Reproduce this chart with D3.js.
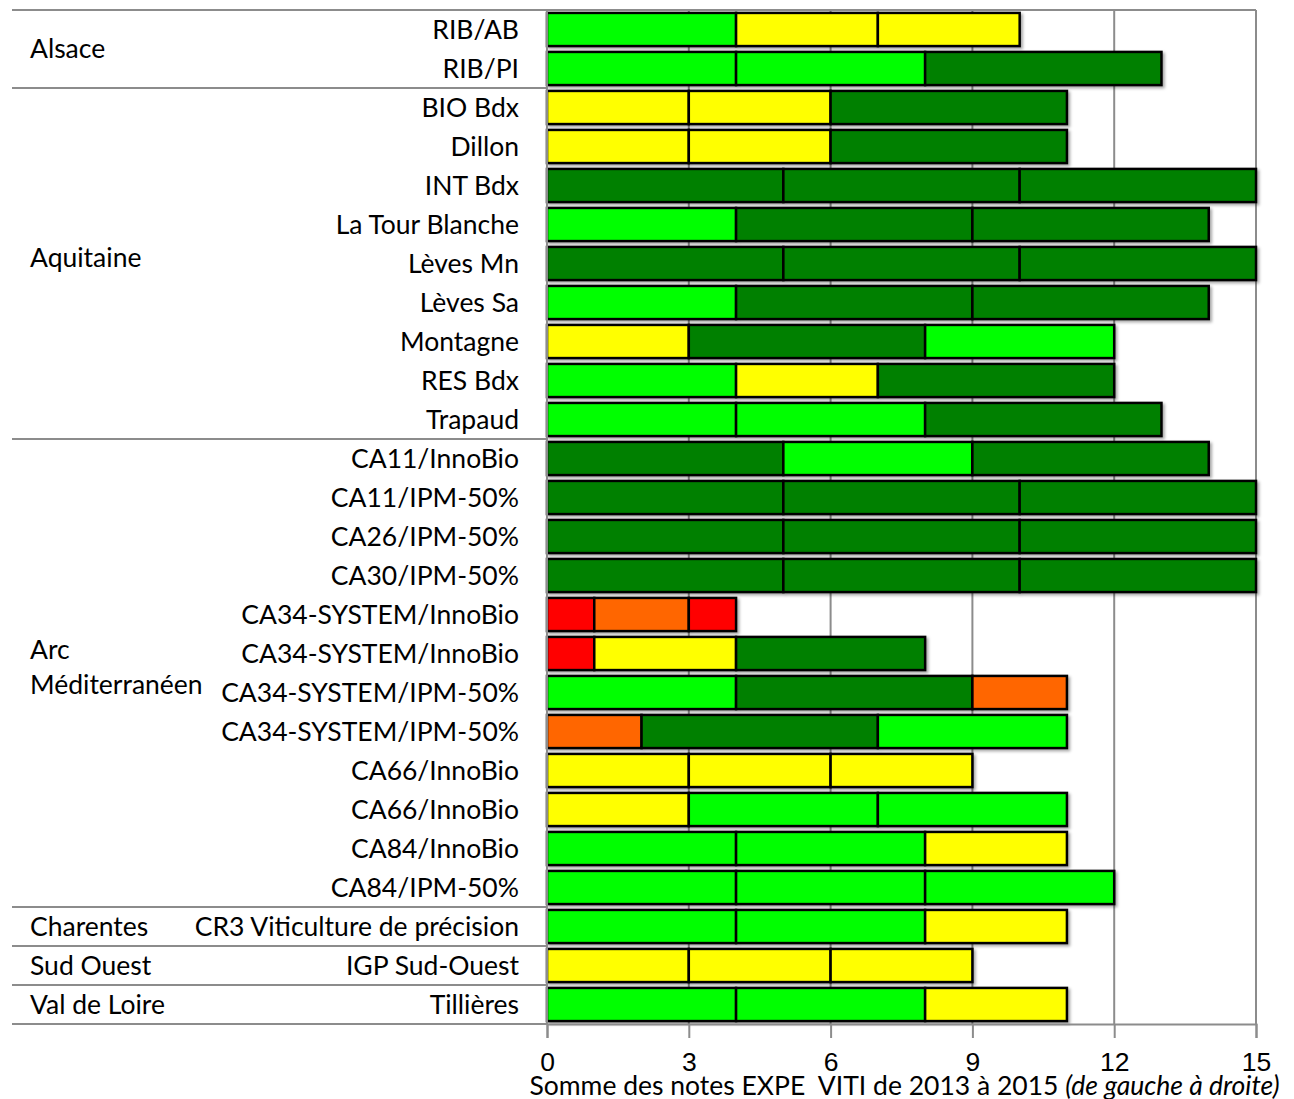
<!DOCTYPE html>
<html>
<head>
<meta charset="utf-8">
<script src="https://cdn.jsdelivr.net/npm/d3@7"></script>
<style>
  body { margin: 0; background: #fff; }
  svg { font-family: Lato, "Liberation Sans", sans-serif; }
  .lbl { font-size: 26.5px; fill: #000; }
</style>
</head>
<body>
<div id="chart"></div>
<script>
// regions (outer category level)
var regions = [
  {name: ["Alsace"], count: 2},
  {name: ["Aquitaine"], count: 9},
  {name: ["Arc", "Méditerranéen"], count: 12},
  {name: ["Charentes"], count: 1},
  {name: ["Sud Ouest"], count: 1},
  {name: ["Val de Loire"], count: 1}
];

// sites (inner category level), top to bottom
var sites = [
  "RIB/AB", "RIB/PI",
  "BIO Bdx", "Dillon", "INT Bdx", "La Tour Blanche", "Lèves Mn", "Lèves Sa",
  "Montagne", "RES Bdx", "Trapaud",
  "CA11/InnoBio", "CA11/IPM-50%", "CA26/IPM-50%", "CA30/IPM-50%",
  "CA34-SYSTEM/InnoBio", "CA34-SYSTEM/InnoBio", "CA34-SYSTEM/IPM-50%", "CA34-SYSTEM/IPM-50%",
  "CA66/InnoBio", "CA66/InnoBio", "CA84/InnoBio", "CA84/IPM-50%",
  "CR3 Viticulture de précision",
  "IGP Sud-Ouest",
  "Tillières"
];

// notes per year
var notes2013 = [4, 4, 3, 3, 5, 4, 5, 4, 3, 4, 4, 5, 5, 5, 5, 1, 1, 4, 2, 3, 3, 4, 4, 4, 3, 4];
var notes2014 = [3, 4, 3, 3, 5, 5, 5, 5, 5, 3, 4, 4, 5, 5, 5, 2, 3, 5, 5, 3, 4, 4, 4, 4, 3, 4];
var notes2015 = [3, 5, 5, 5, 5, 5, 5, 5, 4, 5, 5, 5, 5, 5, 5, 1, 4, 2, 4, 3, 4, 3, 4, 3, 3, 3];

// rating class per year (1 = très mauvais ... 5 = très bon)
var class2013 = [4, 4, 3, 3, 5, 4, 5, 4, 3, 4, 4, 5, 5, 5, 5, 1, 1, 4, 2, 3, 3, 4, 4, 4, 3, 4];
var class2014 = [3, 4, 3, 3, 5, 5, 5, 5, 5, 3, 4, 4, 5, 5, 5, 2, 3, 5, 5, 3, 4, 4, 4, 4, 3, 4];
var class2015 = [3, 5, 5, 5, 5, 5, 5, 5, 4, 5, 5, 5, 5, 5, 5, 1, 5, 2, 4, 3, 4, 3, 4, 3, 3, 3];

var xTicks = [0, 3, 6, 9, 12, 15];
var classColors = ["#ff0000", "#ff6600", "#ffff00", "#00ff00", "#008000"];

var width = 1294, height = 1099;
var x0 = 547, x1 = 1256, yTop = 10, yBot = 1024;
var grey = "#8c8c8c";

var svg = d3.select("#chart").append("svg")
  .attr("width", width)
  .attr("height", height);

var defs = svg.append("defs");
defs.append("filter").attr("id", "shadow")
  .attr("x", "-5%").attr("y", "-20%").attr("width", "110%").attr("height", "150%")
  .append("feDropShadow")
  .attr("dx", 2).attr("dy", 2).attr("stdDeviation", 1.5)
  .attr("flood-color", "#000").attr("flood-opacity", 0.35);

var x = d3.scaleLinear().domain([0, 15]).range([x0, x1]);
var y = d3.scaleBand()
  .domain(d3.range(sites.length))
  .range([yTop, yBot])
  .paddingInner(0.15)
  .paddingOuter(0.075);
var step = y.step();
var color = d3.scaleOrdinal().domain([1, 2, 3, 4, 5]).range(classColors);

// gridlines
svg.append("g")
  .selectAll("line")
  .data(xTicks.filter(function(d){ return d > 0; }))
  .enter().append("line")
  .attr("x1", function(d){ return x(d); })
  .attr("x2", function(d){ return x(d); })
  .attr("y1", yTop).attr("y2", yBot)
  .attr("stroke", grey).attr("stroke-width", 2);

// stacked data
var notes = [notes2013, notes2014, notes2015];
var classes = [class2013, class2014, class2015];
var segs = [];
sites.forEach(function(s, i){
  var acc = 0;
  notes.forEach(function(arr, k){
    var v = arr[i];
    segs.push({i: i, k: k, c: classes[k][i], a: acc, b: acc + v});
    acc += v;
  });
});

svg.append("g")
  .attr("filter", "url(#shadow)")
  .selectAll("rect")
  .data(segs)
  .enter().append("rect")
  .attr("x", function(d){ return x(d.a); })
  .attr("y", function(d){ return y(d.i); })
  .attr("width", function(d){ return x(d.b) - x(d.a); })
  .attr("height", y.bandwidth())
  .attr("fill", function(d){ return color(d.c); })
  .attr("stroke", "#000")
  .attr("stroke-width", 2.5);

// top frame line
svg.append("line")
  .attr("x1", 12).attr("x2", x1).attr("y1", yTop).attr("y2", yTop)
  .attr("stroke", grey).attr("stroke-width", 2);

var xAxis = d3.axisBottom(x).tickValues(xTicks).tickSize(14);
var gx = svg.append("g")
  .attr("transform", "translate(0," + yBot + ")")
  .call(xAxis);
gx.select(".domain").attr("stroke", grey).attr("stroke-width", 2);
gx.selectAll(".tick line").attr("stroke", grey).attr("stroke-width", 2);
gx.selectAll(".tick text")
  .attr("class", "lbl")
  .attr("font-family", null)
  .attr("font-size", null)
  .attr("y", 38)
  .attr("dy", "0.35em");

// category axis lines on left side
svg.append("line")
  .attr("x1", 12).attr("x2", x0).attr("y1", yBot).attr("y2", yBot)
  .attr("stroke", grey).attr("stroke-width", 2);
svg.append("line")
  .attr("x1", x0).attr("x2", x0).attr("y1", yTop).attr("y2", yBot)
  .attr("stroke", grey).attr("stroke-width", 2);

// site labels
svg.append("g")
  .selectAll("text")
  .data(sites)
  .enter().append("text")
  .attr("class", "lbl")
  .attr("x", 519)
  .attr("y", function(d, i){ return y(i) + y.bandwidth() / 2; })
  .attr("dy", "0.35em")
  .attr("text-anchor", "end")
  .text(function(d){ return d; });

// region labels and separators
var start = 0;
regions.forEach(function(r){
  var end = start + r.count;
  var y0 = yTop + start * step, y1 = yTop + end * step;
  if (end < sites.length) {
    svg.append("line")
      .attr("x1", 12).attr("x2", x0).attr("y1", y1).attr("y2", y1)
      .attr("stroke", grey).attr("stroke-width", 2);
  }
  var cy = (y0 + y1) / 2;
  var lh = 35;
  svg.append("text")
    .attr("class", "lbl")
    .attr("x", 30)
    .attr("y", cy - (r.name.length - 1) * lh / 2 - (r.count > 2 ? 6 : 0))
    .selectAll("tspan")
    .data(r.name)
    .enter().append("tspan")
    .attr("x", 30)
    .attr("dy", function(d, j){ return j === 0 ? "0.35em" : lh; })
    .text(function(d){ return d; });
  start = end;
});

// axis title
var title = svg.append("text")
  .attr("class", "lbl")
  .attr("x", (x0 + x1) / 2 + 3)
  .attr("y", 1095)
  .attr("text-anchor", "middle");
title.append("tspan").text("Somme des notes EXPE\u00a0 VITI de 2013 à 2015 ");
title.append("tspan").attr("font-style", "italic").text("(de gauche à droite)");
</script>
</body>
</html>
